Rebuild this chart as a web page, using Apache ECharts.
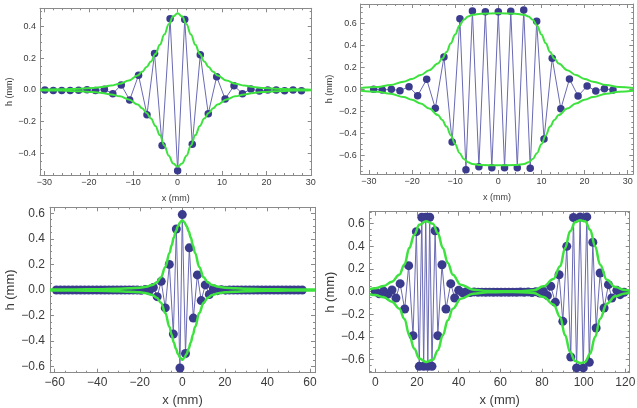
<!DOCTYPE html>
<html>
<head>
<meta charset="utf-8">
<script src="https://cdn.jsdelivr.net/npm/echarts@6/dist/echarts.min.js"></script>
<style>
  html, body { margin: 0; padding: 0; background: #fff; }
  #chart { width: 637px; height: 408px; }
</style>
</head>
<body>
<div id="chart"></div>
<script>
// panel 1 (top left)
const p1X = [-29.9, -28.0, -26.1, -24.2, -22.3, -20.4, -18.5, -16.5, -14.6, -12.7, -10.8, -8.8, -6.9, -5.2, -3.5, -1.7, 0, 1.6, 3.3, 5.1, 6.9, 8.8, 10.7, 12.7, 14.6, 16.5, 18.4, 20.3, 22.2, 24.1, 26.0, 27.9];
const p1H = [0, -0.003, -0.003, -0.003, -0.002, 0.002, -0.004, 0.004, -0.023, 0.032, -0.063, 0.093, -0.156, 0.23, -0.35, 0.45, -0.51, 0.446, -0.343, 0.223, -0.15, 0.084, -0.057, 0.027, -0.023, 0.006, -0.006, 0, 0, -0.005, 0, -0.005];
const p1EnvX = [-31, -26, -22, -19, -17, -15, -13, -11, -9, -8, -7, -6, -5, -4, -3, -2, -1, 0, 1, 2, 3, 4, 5, 6, 7, 8, 9, 11, 13, 15, 17, 19, 22, 26, 30.2];
const p1EnvUp = [0.002, 0.004, 0.008, 0.013, 0.019, 0.028, 0.04, 0.06, 0.092, 0.115, 0.145, 0.18, 0.228, 0.285, 0.35, 0.415, 0.465, 0.485, 0.465, 0.415, 0.35, 0.285, 0.228, 0.18, 0.145, 0.115, 0.092, 0.06, 0.04, 0.028, 0.019, 0.013, 0.008, 0.004, 0.002];
const p1EnvLow = [-0.002, -0.004, -0.008, -0.013, -0.019, -0.028, -0.04, -0.06, -0.092, -0.115, -0.145, -0.18, -0.228, -0.285, -0.35, -0.415, -0.465, -0.485, -0.465, -0.415, -0.35, -0.285, -0.228, -0.18, -0.145, -0.115, -0.092, -0.06, -0.04, -0.028, -0.019, -0.013, -0.008, -0.004, -0.002];

// panel 2 (top right)
const p2X = [-28.9, -26.9, -24.8, -22.8, -20.7, -18.7, -16.6, -14.6, -12.6, -10.7, -8.9, -7.5, -6.0, -4.5, -3.0, -1.5, 0, 1.45, 2.9, 4.4, 5.9, 7.4, 8.9, 10.6, 12.5, 14.5, 16.5, 18.5, 20.6, 22.6, 24.6, 26.6];
const p2H = [0, -0.006, 0, -0.012, 0.024, -0.058, 0.091, -0.173, 0.294, -0.48, 0.644, -0.733, 0.714, -0.705, 0.707, -0.715, 0.707, -0.715, 0.711, -0.715, 0.723, -0.72, 0.62, -0.453, 0.283, -0.177, 0.094, -0.061, 0.03, -0.015, 0.005, -0.006];
const p2EnvX = [-31.9, -28, -25, -22, -20, -18, -16, -14, -13, -12, -11, -10, -9, -8, -7, -6, -4, 0, 4, 6, 7, 8, 9, 10, 11, 12, 13, 14, 16, 18, 20, 22, 25, 28, 31.3];
const p2EnvUp = [0.012, 0.022, 0.04, 0.07, 0.095, 0.13, 0.175, 0.235, 0.28, 0.34, 0.42, 0.5, 0.58, 0.635, 0.665, 0.68, 0.69, 0.693, 0.69, 0.68, 0.665, 0.635, 0.58, 0.5, 0.42, 0.34, 0.28, 0.235, 0.175, 0.13, 0.095, 0.07, 0.04, 0.022, 0.012];
const p2EnvLow = [-0.012, -0.022, -0.04, -0.07, -0.095, -0.13, -0.175, -0.235, -0.28, -0.34, -0.42, -0.5, -0.58, -0.635, -0.665, -0.68, -0.69, -0.693, -0.69, -0.68, -0.665, -0.635, -0.58, -0.5, -0.42, -0.34, -0.28, -0.235, -0.175, -0.13, -0.095, -0.07, -0.04, -0.022, -0.012];

// panel 3 (bottom left)
const p3X = [-59.2, -57.3, -55.4, -53.5, -51.6, -49.7, -47.8, -45.9, -44.0, -42.1, -40.2, -38.3, -36.4, -34.5, -32.6, -30.7, -28.8, -26.9, -25.0, -23.1, -21.2, -19.3, -17.4, -15.5,
  -13.6, -11.8, -9.9, -8.0, -6.1, -4.2, -2.8, -1.1, 0, 1.5, 3.3, 5.2, 7.1, 8.9, 10.8, 12.7, 14.6,
  16.5, 18.4, 20.3, 22.2, 24.1, 26.0, 27.9, 29.8, 31.7, 33.6, 35.5, 37.4, 39.3, 41.2, 43.1, 45.0, 46.9, 48.8, 50.7, 52.6, 54.5, 56.4];
const p3H = [0, 0, 0, 0, 0, 0, 0, 0, 0, 0, 0, 0, 0, 0, 0, 0, 0, 0, 0, 0, 0, -0.002, 0.003, -0.006,
  0.02, -0.052, 0.068, -0.14, 0.2, -0.345, 0.477, -0.61, 0.59, -0.497, 0.33, -0.22, 0.118, -0.083, 0.04, -0.035, 0.01,
  -0.005, 0.002, -0.001, 0, 0, 0, 0, 0, 0, 0, 0, 0, 0, 0, 0, 0, 0, 0, 0, 0, 0, 0];
const p3EnvX = [-62.2, -50, -40, -30, -25, -20, -17, -14, -12, -10, -8, -6, -5, -4, -3, -2, -1, 0, 1, 2, 3, 4, 5, 6, 8, 10, 12, 14, 17, 20, 25, 30, 40, 50, 62.4];
const p3EnvUp = [0.003, 0.004, 0.006, 0.01, 0.013, 0.018, 0.025, 0.04, 0.06, 0.1, 0.18, 0.29, 0.35, 0.41, 0.46, 0.5, 0.53, 0.545, 0.53, 0.5, 0.46, 0.41, 0.35, 0.29, 0.18, 0.1, 0.06, 0.04, 0.025, 0.018, 0.013, 0.01, 0.006, 0.004, 0.003];
const p3EnvLow = [-0.003, -0.004, -0.006, -0.01, -0.013, -0.018, -0.025, -0.04, -0.06, -0.1, -0.18, -0.29, -0.35, -0.41, -0.46, -0.5, -0.53, -0.545, -0.53, -0.5, -0.46, -0.41, -0.35, -0.29, -0.18, -0.1, -0.06, -0.04, -0.025, -0.018, -0.013, -0.01, -0.006, -0.004, -0.003];

// panel 4 (bottom right)
const p4X = [0, 1.9, 4.0, 6.0, 8.0, 9.9, 11.9, 14.1, 16.0, 18.1, 19.7, 21.1, 22.3, 23.2, 24.2, 25.2, 26.1, 27.2, 28.7, 30.0, 32.0, 33.9, 36.2, 38.1, 40.0,
  41.9, 43.75, 45.6, 47.45, 49.3, 51.15, 53.0, 54.85, 56.7, 58.55, 60.4, 62.25, 64.1, 65.95, 67.8, 69.65, 71.5, 73.35, 75.2, 77.05, 78.9,
  80.7, 82.6, 84.2, 86.4, 88.2, 90.0, 91.9, 93.8, 95.1, 96.6, 98.3, 99.8, 101.5, 102.7, 104.4, 106.0, 107.9, 109.8, 111.9, 113.5, 115.9, 117.5, 119.4];
const p4H = [0, -0.018, 0.004, -0.022, 0.015, -0.056, 0.071, -0.153, 0.23, -0.388, 0.53, -0.659, 0.657, -0.659, 0.657, -0.659, 0.657, -0.659, 0.538, -0.388, 0.238, -0.153, 0.071, -0.056, 0.012,
  -0.01, 0.0, -0.008, -0.002, -0.006, -0.004, -0.005, -0.004, -0.005, -0.004, -0.005, -0.004, -0.005, -0.004, -0.005, -0.003, -0.006, -0.002, -0.008, 0.0, -0.012,
  0.003, -0.035, 0.048, -0.094, 0.15, -0.262, 0.40, -0.576, 0.655, -0.673, 0.66, -0.673, 0.66, -0.623, 0.436, -0.32, 0.165, -0.144, 0.062, -0.056, 0.012, -0.026, -0.005];
const p4EnvX = [-2.7, 0, 4, 8, 11.5, 14, 16.3, 18.7, 21.1, 24.3, 27.6, 30, 32.4, 34.8, 37.2, 41, 47, 54, 62, 70, 76, 80.7, 85.5, 88.7, 91.1, 93.5, 95.9, 98.3, 100.7, 103.1, 105.5, 107.9, 111.1, 115.1, 119.9, 122.1];
const p4EnvUp = [0.022, 0.03, 0.05, 0.088, 0.15, 0.24, 0.385, 0.503, 0.59, 0.621, 0.6, 0.518, 0.385, 0.253, 0.15, 0.062, 0.018, 0.005, 0.003, 0.004, 0.012, 0.047, 0.112, 0.224, 0.385, 0.533, 0.612, 0.63, 0.621, 0.547, 0.4, 0.238, 0.106, 0.041, 0.015, 0.01];
const p4EnvLow = [-0.022, -0.03, -0.05, -0.088, -0.15, -0.24, -0.385, -0.503, -0.59, -0.621, -0.6, -0.518, -0.385, -0.253, -0.15, -0.062, -0.018, -0.005, -0.003, -0.004, -0.012, -0.047, -0.112, -0.224, -0.385, -0.533, -0.612, -0.63, -0.621, -0.547, -0.4, -0.238, -0.106, -0.041, -0.015, -0.01];

// tick labels
const ticksX30 = [-30, -20, -10, 0, 10, 20, 30];
const ticksX60 = [-60, -40, -20, 0, 20, 40, 60];
const ticksX120 = [0, 20, 40, 60, 80, 100, 120];
const ticksY4 = [-0.4, -0.2, 0, 0.2, 0.4];
const ticksY6 = [-0.6, -0.4, -0.2, 0, 0.2, 0.4, 0.6];

const frameColor = "#8a8a8a";
const labelColor = "#3c3c3c";
const dotColor = "#3b3b8e";
const linkColor = "#6a6ab4";
const envColor = "#3ee23e";
const font = "Liberation Sans, Arial, sans-serif";

function steps(a, b, s) {
  const out = [];
  for (let v = a; v <= b + 1e-9; v += s) out.push(Math.round(v * 1000) / 1000);
  return out;
}

function minus(v, digits) {
  const s = digits ? v.toFixed(digits) : String(Math.round(v));
  return s.replace("-", "\u2212");
}

const panels = [
  {
    grid: { left: 40, top: 8.3, right: 325.3, bottom: 233 },
    xr: [-31, 30.2], yr: [-0.537, 0.516],
    xMajor: ticksX30, xMinor: steps(-30, 30, 2),
    yMajor: ticksY4, yMinor: steps(-0.5, 0.5, 0.05),
    tickFont: 9, nameFont: 9, xGap: 19, yGap: 24, labelMargin: 3,
    dot: 7.5, link: 1, env: 2,
    x: p1X, h: p1H, envX: p1EnvX, envUp: p1EnvUp, envLow: p1EnvLow
  },
  {
    grid: { left: 360.7, top: 4, right: 3.7, bottom: 234 },
    xr: [-31.9, 31.3], yr: [-0.772, 0.778],
    xMajor: ticksX30, xMinor: steps(-30, 30, 2),
    yMajor: ticksY6, yMinor: steps(-0.75, 0.75, 0.05),
    tickFont: 9, nameFont: 9, xGap: 19, yGap: 27, labelMargin: 3,
    dot: 7.5, link: 1, env: 2,
    x: p2X, h: p2H, envX: p2EnvX, envUp: p2EnvUp, envLow: p2EnvLow
  },
  {
    grid: { left: 50, top: 207.3, right: 322, bottom: 35.3 },
    xr: [-62.2, 62.4], yr: [-0.647, 0.647],
    xMajor: ticksX60, xMinor: steps(-60, 60, 5),
    yMajor: ticksY6, yMinor: steps(-0.6, 0.6, 0.05),
    tickFont: 12, nameFont: 13, xGap: 21, yGap: 33, labelMargin: 4,
    dot: 9, link: 1, env: 2.5,
    x: p3X, h: p3H, envX: p3EnvX, envUp: p3EnvUp, envLow: p3EnvLow
  },
  {
    grid: { left: 369.7, top: 211.7, right: 7.3, bottom: 35.3 },
    xr: [-2.7, 122.1], yr: [-0.715, 0.706],
    xMajor: ticksX120, xMinor: steps(0, 120, 5),
    yMajor: ticksY6, yMinor: steps(-0.7, 0.7, 0.05),
    tickFont: 12, nameFont: 13, xGap: 21, yGap: 31, labelMargin: 4,
    dot: 9, link: 1, env: 2.5,
    x: p4X, h: p4H, envX: p4EnvX, envUp: p4EnvUp, envLow: p4EnvLow
  }
];

const grids = [];
const xAxes = [];
const yAxes = [];
const series = [];

function frameSide(gi, range, pos, major, minor, opts) {
  const base = {
    type: "value",
    gridIndex: gi,
    position: pos,
    min: range[0],
    max: range[1],
    splitLine: { show: false },
    axisPointer: { show: false }
  };
  const main = Object.assign({}, base, {
    axisLine: { show: true, onZero: false, lineStyle: { color: frameColor, width: 1 } },
    axisTick: { show: true, inside: true, length: 4, customValues: major, lineStyle: { color: frameColor } },
    axisLabel: opts.labels
      ? {
          show: true, customValues: major, margin: opts.margin,
          fontSize: opts.fontSize, fontFamily: font, color: labelColor,
          formatter: (v) => minus(v, opts.digits)
        }
      : { show: false }
  });
  if (opts.name) {
    Object.assign(main, {
      name: opts.name, nameLocation: "middle", nameGap: opts.nameGap,
      nameTextStyle: { fontSize: opts.nameFont, fontFamily: font, color: labelColor }
    });
  }
  // minor ticks sit on their own axis so they keep the frame position
  const small = Object.assign({}, base, {
    axisLine: { show: false, onZero: false },
    axisTick: { show: true, inside: true, length: 2, customValues: minor, lineStyle: { color: frameColor } },
    axisLabel: { show: false }
  });
  return [main, small];
}

panels.forEach((p, i) => {
  grids.push(Object.assign({ outerBoundsMode: "none", containLabel: false }, p.grid));
  const xi = xAxes.length;
  const yi = yAxes.length;
  xAxes.push(...frameSide(i, p.xr, "bottom", p.xMajor, p.xMinor, {
    labels: true, margin: p.labelMargin, fontSize: p.tickFont, digits: 0,
    name: "x (mm)", nameGap: p.xGap, nameFont: p.nameFont
  }));
  xAxes.push(...frameSide(i, p.xr, "top", p.xMajor, p.xMinor, { labels: false }));
  yAxes.push(...frameSide(i, p.yr, "left", p.yMajor, p.yMinor, {
    labels: true, margin: p.labelMargin + 1, fontSize: p.tickFont, digits: 1,
    name: "h (mm)", nameGap: p.yGap, nameFont: p.nameFont
  }));
  yAxes.push(...frameSide(i, p.yr, "right", p.yMajor, p.yMinor, { labels: false }));

  series.push({
    type: "line",
    xAxisIndex: xi,
    yAxisIndex: yi,
    data: p.x.map((v, k) => [v, p.h[k]]),
    symbol: "circle",
    symbolSize: p.dot,
    itemStyle: { color: dotColor },
    lineStyle: { color: linkColor, width: p.link },
    z: 2
  });
  [p.envUp, p.envLow].forEach((env) => {
    series.push({
      type: "line",
      xAxisIndex: xi,
      yAxisIndex: yi,
      data: p.envX.map((v, k) => [v, env[k]]),
      smooth: 0.4,
      smoothMonotone: "x",
      showSymbol: false,
      symbol: "none",
      lineStyle: { color: envColor, width: p.env },
      z: 3
    });
  });
});

const chart = echarts.init(document.getElementById("chart"), null, { renderer: "canvas" });
chart.setOption({
  animation: false,
  backgroundColor: "#ffffff",
  grid: grids,
  xAxis: xAxes,
  yAxis: yAxes,
  series
});
</script>
</body>
</html>
